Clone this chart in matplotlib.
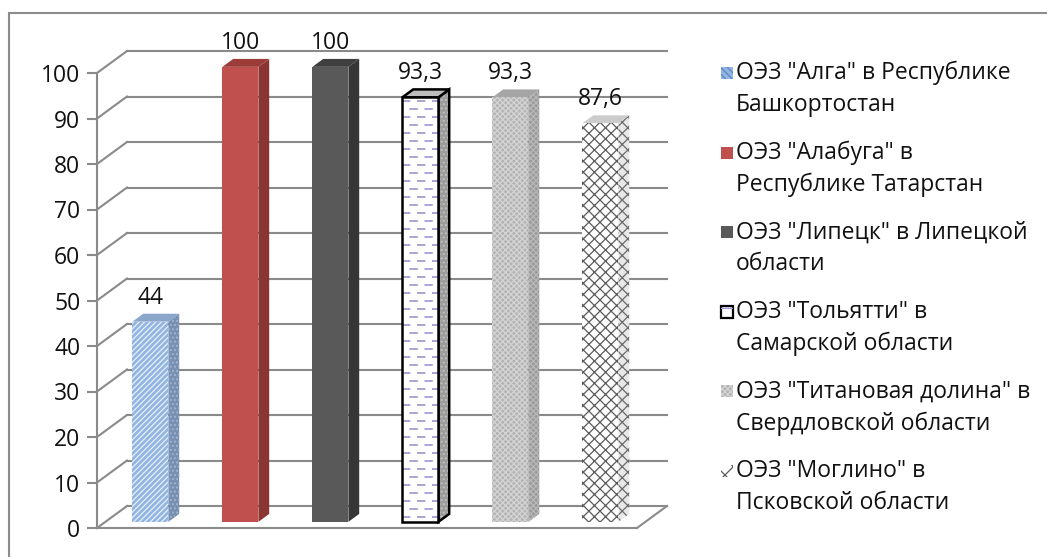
import matplotlib
matplotlib.use('Agg')
import matplotlib.pyplot as plt
from matplotlib.patches import Rectangle, Polygon
from matplotlib.lines import Line2D
from matplotlib.transforms import Affine2D, IdentityTransform
import numpy as np

# ---------------- data ----------------
categories = [
    'ОЭЗ "Алга" в Республике\nБашкортостан',
    'ОЭЗ "Алабуга" в\nРеспублике Татарстан',
    'ОЭЗ "Липецк" в Липецкой\nобласти',
    'ОЭЗ "Тольятти" в\nСамарской области',
    'ОЭЗ "Титановая долина" в\nСвердловской области',
    'ОЭЗ "Моглино" в\nПсковской области',
]
values = [44, 100, 100, 93.3, 93.3, 87.6]
value_labels = ['44', '100', '100', '93,3', '93,3', '87,6']
yticks = [0, 10, 20, 30, 40, 50, 60, 70, 80, 90, 100]

# ---------------- styles ----------------
FONT = 'Open Sans'
plt.rcParams['font.family'] = [FONT, 'DejaVu Sans']
plt.rcParams['hatch.linewidth'] = 0.9
GRID = '#8a8a8a'
TXT = '#111111'
FS = 16.5

styles = [
    dict(front='#92b4e0', fh='//////', fhc='#e8f0fb', side='#7890b2', sh='....', shc='#9fb4d0',
         top='#8ba6cb', edge=None, dash=False),
    dict(front='#c0504d', fh=None, fhc=None, side='#8a3532', sh=None, shc=None,
         top='#9c3c39', edge=None, dash=False),
    dict(front='#595959', fh=None, fhc=None, side='#363636', sh=None, shc=None,
         top='#3f3f3f', edge=None, dash=False),
    dict(front='white', fh=None, fhc='#a192d0', side='#9c9c9c', sh='....', shc='#c4c4c4',
         top='#bdbdbd', edge='black', dash=True),
    dict(front='#b4b4b4', fh='xxxxxx', fhc='#d4d4d4', side='#9a9a9a', sh='xxxxxx', shc='#b8b8b8',
         top='#a5a5a5', edge=None, dash=False),
    dict(front='white', fh='xxx', fhc='#5a5a5a', side='#e8e8e8', sh='xxx', shc='#6a6a6a',
         top='#cccccc', edge=None, dash=False),
]

W, H = 1047, 557
DPI = 100
fig = plt.figure(figsize=(W / DPI, H / DPI), dpi=DPI)
ax = fig.add_axes([97 / W, 29 / H, 540 / W, 455 / H])
n = len(values)
ax.set_xlim(-0.5, n - 0.5)
ax.set_ylim(0, 100)

DX, DY = 30.0, 22.0       # full depth offset in pixels
F_FR, F_BK = 0.28, 0.64   # bar front/back depth fraction
BW = 0.4                  # bar width


def T(t):
    return ax.transData + Affine2D().translate(t * DX, t * DY)


def disp(x, y, t):
    return T(t).transform((x, y))


# back wall gridlines
for v in yticks:
    ax.plot([-0.5, n - 0.5], [v, v], transform=T(1), color=GRID, lw=1.5,
            clip_on=False, zorder=1)
    p0, p1 = disp(-0.5, v, 0), disp(-0.5, v, 1)
    ax.add_line(Line2D([p0[0], p1[0]], [p0[1], p1[1]], transform=IdentityTransform(),
                       color=GRID, lw=1.5, clip_on=False, zorder=1))

# floor front + right edges
ax.plot([-0.5, n - 0.5], [0, 0], color=GRID, lw=1.5, clip_on=False, zorder=1)
p0, p1 = disp(n - 0.5, 0, 0), disp(n - 0.5, 0, 1)
ax.add_line(Line2D([p0[0], p1[0]], [p0[1], p1[1]], transform=IdentityTransform(),
                   color=GRID, lw=1.5, clip_on=False, zorder=1))


def poly(pts, fc, hatch=None, hc=None, ec=None, lw=0.0, z=3):
    base = Polygon(pts, closed=True, transform=IdentityTransform(), facecolor=fc,
                   edgecolor='none', lw=0, clip_on=False, zorder=z)
    ax.add_patch(base)
    if hatch:
        ax.add_patch(Polygon(pts, closed=True, transform=IdentityTransform(), facecolor='none',
                             edgecolor=hc, hatch=hatch, lw=0, clip_on=False, zorder=z + 0.1))
    if ec:
        ax.add_patch(Polygon(pts, closed=True, transform=IdentityTransform(), facecolor='none',
                             edgecolor=ec, lw=lw, clip_on=False, zorder=z + 0.2))
    return base


for i, (v, st) in enumerate(zip(values, styles)):
    xl, xr = i - BW / 2, i + BW / 2
    front = [disp(xl, 0, F_FR), disp(xr, 0, F_FR), disp(xr, v, F_FR), disp(xl, v, F_FR)]
    side = [disp(xr, 0, F_FR), disp(xr, 0, F_BK), disp(xr, v, F_BK), disp(xr, v, F_FR)]
    top = [disp(xl, v, F_FR), disp(xr, v, F_FR), disp(xr, v, F_BK), disp(xl, v, F_BK)]
    lw = 1.8 if st['edge'] else 0
    poly(side, st['side'], st['sh'], st['shc'], st['edge'], lw, z=3)
    poly(top, st['top'], None, None, st['edge'], lw, z=3.5)
    fp = poly(front, st['front'], st['fh'], st['fhc'], st['edge'], lw, z=4)
    if st['dash']:
        # dashed texture rows on the front face
        y_lo, y_hi = front[0][1], front[2][1]
        x_lo, x_hi = front[0][0], front[1][0]
        for r, yy in enumerate(np.arange(y_lo + 5, y_hi - 2, 8.0)):
            ln = Line2D([x_lo, x_hi], [yy, yy], transform=IdentityTransform(), color=st['fhc'],
                        lw=1.2, dashes=(5, 4), dash_capstyle='butt', zorder=4.1, clip_on=True)
            ln.set_dashes((0, (5, 4))) if False else None
            if r % 2:
                ln.set_linestyle((4.5, (5, 4)))
            else:
                ln.set_linestyle((0, (5, 4)))
            ax.add_line(ln)
            ln.set_clip_path(fp)
    ax.text(i, v, value_labels[i], transform=T(F_FR) + Affine2D().translate(0, (F_BK - F_FR) * DY + 4),
            ha='center', va='bottom', fontsize=FS, color=TXT, zorder=6)

# axis
for s in ['top', 'right', 'bottom']:
    ax.spines[s].set_visible(False)
ax.spines['left'].set_color(GRID)
ax.spines['left'].set_linewidth(1.5)
ax.set_xticks([])
ax.set_yticks(yticks)
ax.set_yticklabels([str(t) for t in yticks])
ax.tick_params(axis='y', direction='out', length=7, width=1.5, color=GRID,
               labelsize=FS, labelcolor=TXT, pad=5)
ax.patch.set_visible(False)

# legend (manual, to keep the handle on the first line)
leg_hatch = ['\\\\\\\\\\', None, None, '-', 'xxxxxx', 'xx']
for k, (lab, st) in enumerate(zip(categories, styles)):
    yc = 73 + k * 79.6
    sq = 12
    x0 = 721
    rect_kw = dict(transform=fig.transFigure, clip_on=False)
    ec = 'black' if st['edge'] else 'none'
    fig.patches.append(Rectangle((x0 / W, 1 - (yc + sq / 2) / H), sq / W, sq / H,
                                 facecolor=st['front'], edgecolor=ec,
                                 lw=1.6 if st['edge'] else 0, **rect_kw))
    if leg_hatch[k]:
        fig.patches.append(Rectangle((x0 / W, 1 - (yc + sq / 2) / H), sq / W, sq / H,
                                     facecolor='none', edgecolor=st['fhc'] if k != 0 else '#5b86c6',
                                     hatch=leg_hatch[k], lw=0, **rect_kw))
    for j, line in enumerate(lab.split('\n')):
        fig.text(736 / W, 1 - (yc + j * 32) / H, line, ha='left', va='center',
                 fontsize=FS, color=TXT)

# outer border
fig.patches.append(Rectangle((9 / W, -0.05), 1.2, 1 - 13 / H + 0.05, transform=fig.transFigure,
                             facecolor='none', edgecolor='#8c8c8c', lw=1.5, clip_on=False))

fig.savefig('out.png', dpi=DPI)
